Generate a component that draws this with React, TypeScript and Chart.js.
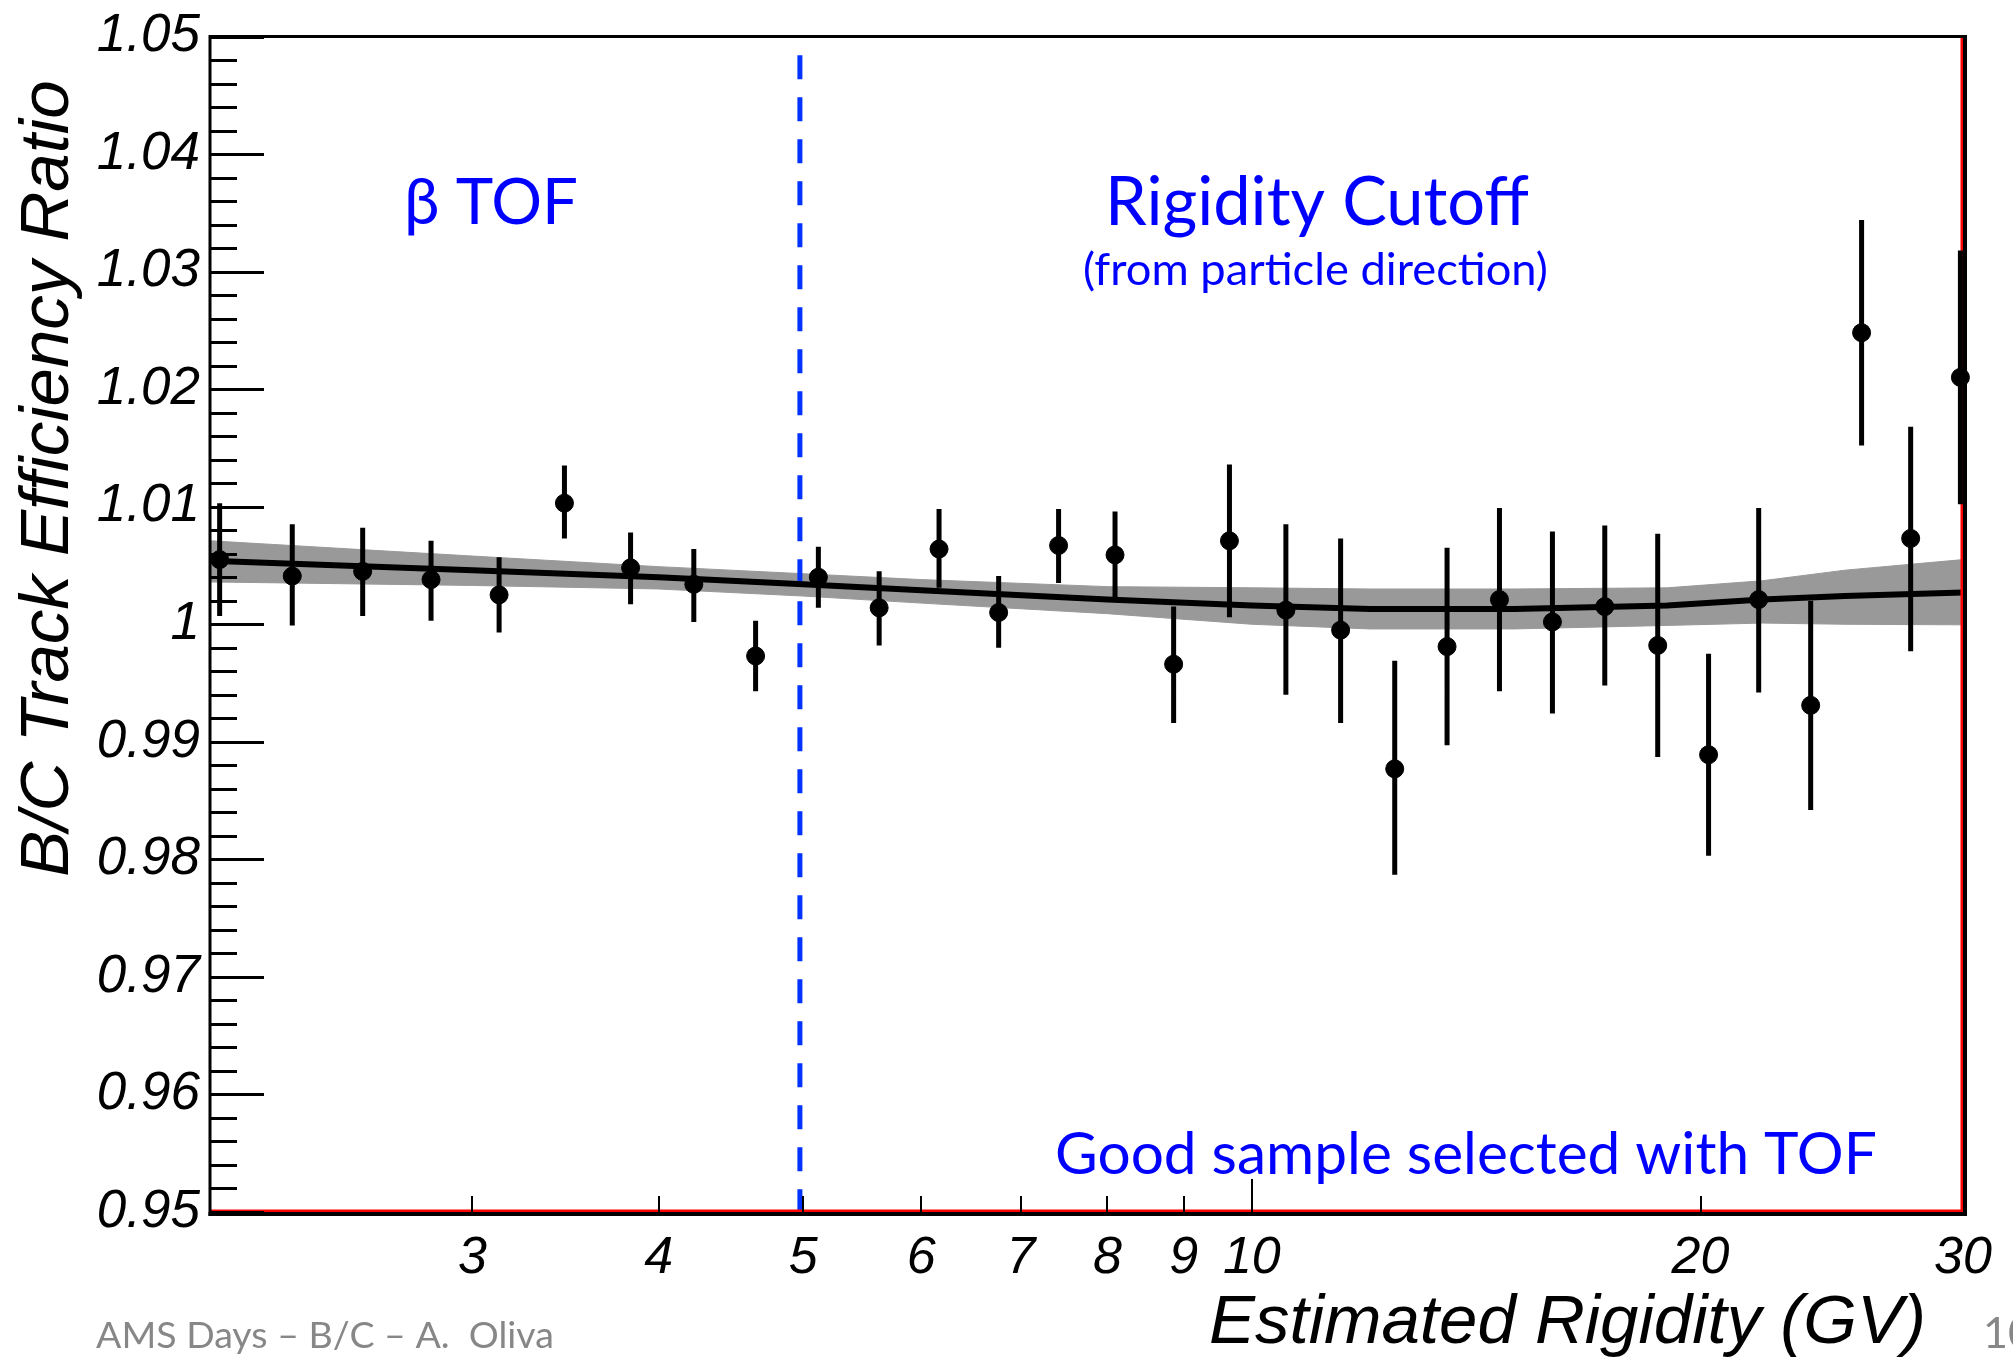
import React, { useEffect, useRef } from 'react';
import { Chart, registerables } from 'chart.js';

Chart.register(...registerables);

// ---------------- data ----------------
const rigidity = [2.03, 2.271, 2.532, 2.814, 3.126, 3.458, 3.83, 4.223, 4.646, 5.119, 5.623, 6.168, 6.763, 7.419, 8.095, 8.862, 9.66, 10.54, 11.47, 12.47, 13.52, 14.66, 15.91, 17.25, 18.72, 20.25, 21.88, 23.71, 25.65, 27.67, 29.88];
const ratio = [1.0055, 1.0041, 1.0045, 1.0038, 1.0025, 1.0103, 1.0048, 1.0034, 0.9973, 1.0040, 1.0014, 1.0064, 1.0010, 1.0067, 1.0059, 0.9966, 1.0071, 1.0012, 0.9995, 0.9877, 0.9981, 1.0021, 1.0002, 1.0015, 0.9982, 0.9889, 1.0021, 0.9931, 1.0248, 1.0073, 1.0210];
const ratioLow = [1.0007, 0.9999, 1.0007, 1.0003, 0.9993, 1.0073, 1.0017, 1.0002, 0.9943, 1.0014, 0.9982, 1.0031, 0.9980, 1.0035, 1.0023, 0.9916, 1.0006, 0.9940, 0.9916, 0.9787, 0.9897, 0.9943, 0.9924, 0.9948, 0.9887, 0.9803, 0.9942, 0.9842, 1.0152, 0.9977, 1.0102];
const ratioHigh = [1.0103, 1.0085, 1.0082, 1.0071, 1.0057, 1.0135, 1.0078, 1.0064, 1.0003, 1.0066, 1.0045, 1.0098, 1.0041, 1.0098, 1.0096, 1.0015, 1.0136, 1.0085, 1.0073, 0.9969, 1.0065, 1.0099, 1.0079, 1.0084, 1.0077, 0.9975, 1.0099, 1.0020, 1.0344, 1.0168, 1.0318];

const fitRigidity = [2, 3, 4, 5, 6, 8, 10, 12, 15, 19, 22, 25, 30];
const fitCentral = [1.0054, 1.0046, 1.0040, 1.0034, 1.0029, 1.0021, 1.0016, 1.0013, 1.0013, 1.0016, 1.0021, 1.0024, 1.0027];
const fitUpper = [1.0071, 1.0058, 1.0049, 1.0043, 1.0038, 1.0032, 1.0031, 1.0030, 1.0030, 1.0031, 1.0037, 1.0046, 1.0055];
const fitLower = [1.0036, 1.0033, 1.0030, 1.0024, 1.0018, 1.0009, 1.0000, 0.9996, 0.9996, 0.9999, 1.0001, 1.0000, 0.99995];

const cutoffRigidity = 4.975;
const cutoffTop = 1.0484;

const xMin = 2;
const xMax = 30;
const yMin = 0.95;
const yMax = 1.05;
const xTickValues = [2, 3, 4, 5, 6, 7, 8, 9, 10, 20, 30];
const xHiddenLabels = [2];
const xLongTicks = [10];
const yMajorStep = 0.01;
const yMinorStep = 0.002;

const xTitle = 'Estimated Rigidity (GV)';
const yTitle = 'B/C Track Efficiency Ratio';

// ---------------- text layout ----------------
const HELV = '"Liberation Sans", Arial, Helvetica, sans-serif';
const CAL = 'Lato, "Open Sans", "Noto Sans", sans-serif';

const notes = [
  { text: 'β TOF', left: 404, baseline: 224, width: 174, color: '#0000ff' },
  { text: 'Rigidity Cutoff', left: 1105, baseline: 225, width: 424, color: '#0000ff' },
  { text: '(from particle direction)', left: 1083, baseline: 285, width: 465, color: '#0000ff' },
  { text: 'Good sample selected with TOF', left: 1055, baseline: 1174, width: 822, color: '#0000ff' },
  { text: 'AMS Days – B/C – A.  Oliva', left: 96, baseline: 1348, width: 458, color: '#878787' },
  { text: '10', left: 1983, baseline: 1348, size: 43, color: '#878787' },
];

const W = 2013;
const H = 1358;

const decorPlugin = {
  id: 'decor',
  afterDraw(chart: any) {
    const { ctx, chartArea: a, scales } = chart;
    const x = scales.x;
    const y = scales.y;
    ctx.save();

    // y tick marks
    ctx.strokeStyle = '#000';
    ctx.lineWidth = 3;
    const nMinor = Math.round((yMax - yMin) / yMinorStep);
    const perMajor = Math.round(yMajorStep / yMinorStep);
    for (let k = 0; k <= nMinor; k++) {
      const v = yMin + k * yMinorStep;
      const py = Math.round(y.getPixelForValue(v)) + 0.5;
      const len = k % perMajor === 0 ? 54 : 27;
      ctx.beginPath();
      ctx.moveTo(a.left, py);
      ctx.lineTo(a.left + len, py);
      ctx.stroke();
    }

    // x tick marks
    ctx.lineWidth = 2;
    for (const v of xTickValues) {
      if (v === xMin || v === xMax) continue;
      const px = Math.round(x.getPixelForValue(v));
      const len = xLongTicks.includes(v) ? 33 : 16;
      ctx.beginPath();
      ctx.moveTo(px, a.bottom);
      ctx.lineTo(px, a.bottom - len);
      ctx.stroke();
    }

    // frame
    ctx.strokeStyle = '#000';
    ctx.lineWidth = 3;
    ctx.beginPath();
    ctx.moveTo(a.left, a.top);
    ctx.lineTo(a.right + 4, a.top);
    ctx.moveTo(a.left, a.top - 1.5);
    ctx.lineTo(a.left, a.bottom + 4);
    ctx.stroke();
    ctx.lineWidth = 4;
    ctx.beginPath();
    ctx.moveTo(a.left - 1.5, a.bottom + 2);
    ctx.lineTo(a.right + 4, a.bottom + 2);
    ctx.moveTo(a.right + 2, a.top - 1.5);
    ctx.lineTo(a.right + 2, a.bottom + 4);
    ctx.stroke();

    // axis titles
    ctx.fillStyle = '#000';
    ctx.font = `italic 69px ${HELV}`;
    ctx.textBaseline = 'alphabetic';
    ctx.textAlign = 'right';
    ctx.fillText(xTitle, a.right - 37, 1343);
    ctx.save();
    ctx.translate(68, a.top + 44);
    ctx.rotate(-Math.PI / 2);
    ctx.textAlign = 'right';
    ctx.fillText(yTitle, 0, 0);
    ctx.restore();

    // annotations / footer
    for (const t of notes as any[]) {
      let size = t.size;
      if (t.width) {
        ctx.font = `100px ${CAL}`;
        const w = ctx.measureText(t.text).width;
        size = (100 * t.width) / w;
      }
      ctx.font = `${size}px ${CAL}`;
      ctx.fillStyle = t.color;
      ctx.textAlign = 'left';
      ctx.textBaseline = 'alphabetic';
      ctx.fillText(t.text, t.left, t.baseline);
    }
    ctx.restore();
  },
};

export default function App() {
  const ref = useRef<HTMLCanvasElement | null>(null);

  useEffect(() => {
    if (!ref.current) return;

    const points = rigidity.map((r, i) => ({ x: r, y: ratio[i] }));
    const errorSegments: any[] = [];
    rigidity.forEach((r, i) => {
      errorSegments.push({ x: r, y: ratioLow[i] });
      errorSegments.push({ x: r, y: ratioHigh[i] });
      errorSegments.push({ x: r, y: null });
    });
    const fitLine = fitRigidity.map((r, i) => ({ x: r, y: fitCentral[i] }));
    const bandUp = fitRigidity.map((r, i) => ({ x: r, y: fitUpper[i] }));
    const bandLo = fitRigidity.map((r, i) => ({ x: r, y: fitLower[i] }));

    const chart = new Chart(ref.current, {
      type: 'scatter',
      data: {
        datasets: [
          {
            label: 'B/C ratio',
            data: points,
            showLine: false,
            pointRadius: 9,
            pointBackgroundColor: '#000',
            pointBorderColor: '#000',
            pointBorderWidth: 1,
            clip: false,
            order: 0,
          },
          {
            label: 'errors',
            data: errorSegments,
            showLine: true,
            spanGaps: false,
            borderColor: '#000',
            borderWidth: 5,
            borderCapStyle: 'butt',
            pointRadius: 0,
            clip: false,
            order: 1,
          },
          {
            label: 'edge',
            data: [
              { x: xMin, y: yMin },
              { x: xMax, y: yMin },
              { x: xMax, y: yMax },
            ],
            showLine: true,
            borderColor: '#ff0000',
            borderWidth: 5,
            pointRadius: 0,
            clip: false,
            order: 2,
          },
          {
            label: 'fit',
            data: fitLine,
            showLine: true,
            borderColor: '#000',
            borderWidth: 6,
            pointRadius: 0,
            order: 3,
          },
          {
            label: 'cutoff',
            data: [
              { x: cutoffRigidity, y: cutoffTop },
              { x: cutoffRigidity, y: yMin },
            ],
            showLine: true,
            borderColor: '#0033ff',
            borderWidth: 5,
            borderDash: [24, 18],
            borderCapStyle: 'butt',
            pointRadius: 0,
            order: 4,
          },
          {
            label: 'band upper',
            data: bandUp,
            showLine: true,
            borderColor: '#999999',
            borderWidth: 1,
            backgroundColor: '#999999',
            fill: '+1',
            pointRadius: 0,
            order: 5,
          },
          {
            label: 'band lower',
            data: bandLo,
            showLine: true,
            borderColor: '#999999',
            borderWidth: 1,
            fill: false,
            pointRadius: 0,
            order: 6,
          },
        ],
      },
      options: {
        responsive: false,
        animation: false,
        devicePixelRatio: 1,
        events: [],
        layout: { padding: { top: 30, right: 50, left: 0, bottom: 0 } },
        plugins: {
          legend: { display: false },
          tooltip: { enabled: false },
          title: { display: false },
        },
        scales: {
          x: {
            type: 'logarithmic',
            min: xMin,
            max: xMax,
            grid: { display: false, drawTicks: false },
            border: { display: false },
            afterBuildTicks: (s: any) => {
              s.ticks = xTickValues.map((v) => ({ value: v }));
            },
            afterFit: (s: any) => {
              s.height = 146;
            },
            ticks: {
              autoSkip: false,
              maxRotation: 0,
              minRotation: 0,
              padding: 15,
              color: '#000',
              font: { family: HELV, size: 52, style: 'italic', lineHeight: 1.2 },
              callback: (v: any) => (xHiddenLabels.includes(Number(v)) ? '' : String(v)),
            },
          },
          y: {
            type: 'linear',
            min: yMin,
            max: yMax,
            grid: { display: false, drawTicks: false },
            border: { display: false },
            afterFit: (s: any) => {
              s.width = 210;
            },
            ticks: {
              stepSize: yMajorStep,
              padding: 10,
              color: '#000',
              font: { family: HELV, size: 53, style: 'italic', lineHeight: 1 },
              callback: (v: any) => String(parseFloat(Number(v).toFixed(2))),
            },
          },
        },
      } as any,
      plugins: [decorPlugin],
    });

    return () => chart.destroy();
  }, []);

  return (
    <div style={{ position: 'absolute', left: 0, top: 0, width: W, height: H, background: '#fff', overflow: 'hidden' }}>
      <canvas ref={ref} width={W} height={H} style={{ display: 'block', width: W, height: H }} />
    </div>
  );
}
